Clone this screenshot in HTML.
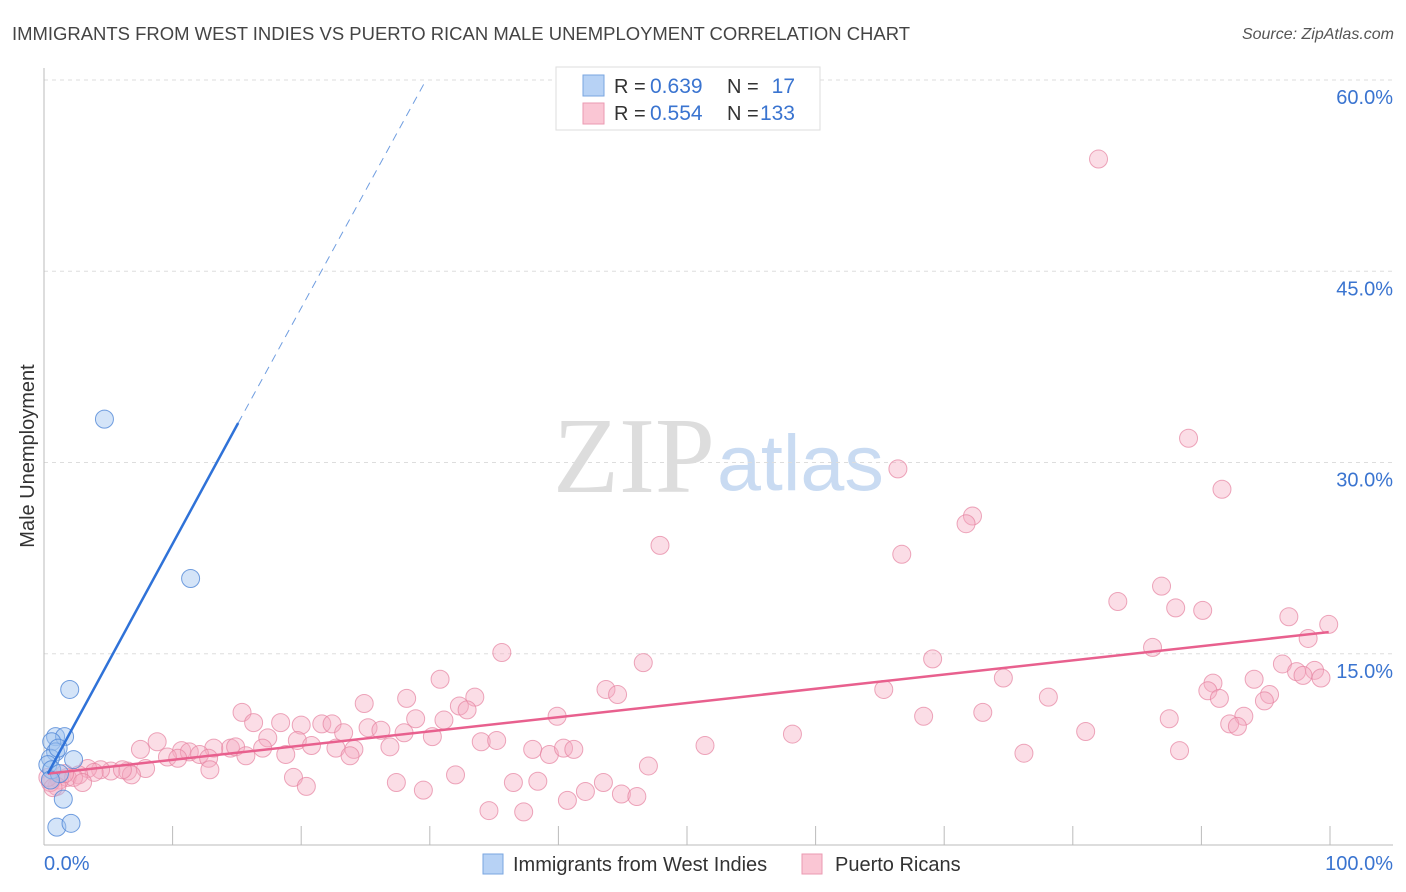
<!DOCTYPE html>
<html><head><meta charset="utf-8"><style>
body{margin:0;background:#fff;font-family:"Liberation Sans",sans-serif;}
svg{display:block}
</style></head><body>
<svg id="chart" width="1406" height="892" xmlns="http://www.w3.org/2000/svg">
<text x="12" y="40" font-size="18" fill="#444" textLength="898" lengthAdjust="spacingAndGlyphs">IMMIGRANTS FROM WEST INDIES VS PUERTO RICAN MALE UNEMPLOYMENT CORRELATION CHART</text>
<text x="1394" y="39" font-size="16" fill="#555" font-style="italic" text-anchor="end">Source: ZipAtlas.com</text>
<g>
<text x="553" y="492" font-size="108" font-family="Liberation Serif,serif" fill="#ddd">ZIP</text>
<text x="717" y="490" font-size="79" fill="#c9dbf2">atlas</text>
</g>
<g id="grid"></g>
<g id="axes"></g>
<g id="marks"></g>
<text transform="translate(34,456) rotate(-90)" font-size="20" fill="#333" text-anchor="middle">Male Unemployment</text>
<g>
<rect x="556" y="67" width="264" height="63" fill="#fff" stroke="#ddd"/>
<rect x="583" y="75" width="21" height="21" fill="#b7d2f5" stroke="#7aa6e0"/>
<rect x="583" y="103" width="21" height="21" fill="#fac6d4" stroke="#eb9ab2"/>
<text x="614" y="93" font-size="20" fill="#333">R =</text>
<text x="650" y="93" font-size="21" fill="#3a74d0">0.639</text>
<text x="727" y="93" font-size="20" fill="#333">N =</text>
<text x="795" y="93" font-size="21" fill="#3a74d0" text-anchor="end">17</text>
<text x="614" y="120" font-size="20" fill="#333">R =</text>
<text x="650" y="120" font-size="21" fill="#3a74d0">0.554</text>
<text x="727" y="120" font-size="20" fill="#333">N =</text>
<text x="795" y="120" font-size="21" fill="#3a74d0" text-anchor="end">133</text>
</g>
<g>
<rect x="483" y="854" width="20" height="20" fill="#b7d2f5" stroke="#7aa6e0"/>
<text x="513" y="871" font-size="20" fill="#333">Immigrants from West Indies</text>
<rect x="802" y="854" width="20" height="20" fill="#fac6d4" stroke="#eb9ab2"/>
<text x="835" y="871" font-size="20" fill="#333">Puerto Ricans</text>
</g>
</svg>
<script>
const yTicks=[15,30,45,60];
const yTickLabels=["15.0%","30.0%","45.0%","60.0%"];
const xTickLabels=["0.0%","100.0%"];
const blueX=[4.7,11.4,2.0,0.9,1.6,0.6,0.9,0.5,2.3,0.3,0.6,1.2,1.5,1.0,2.1,0.5,1.1];
const blueY=[33.4,20.9,12.2,8.5,8.5,8.1,7.3,6.8,6.7,6.3,5.9,5.6,3.6,1.4,1.7,5.1,7.6];
const pinkX=[82.0,89.0,66.4,91.6,72.2,71.7,47.9,66.7,86.9,83.5,88.0,90.1,96.8,99.9,98.3,35.6,86.2,69.1,46.6,96.3,97.4,98.8,97.9,99.3,74.6,94.1,90.9,65.3,43.7,44.6,90.5,78.1,95.3,91.4,30.8,28.2,33.5,24.9,32.3,32.9,94.9,15.4,28.9,31.1,39.9,68.4,73.0,87.5,93.3,92.2,92.8,16.3,18.4,20.0,21.6,22.4,23.3,25.2,26.2,28.0,30.2,58.2,81.0,17.4,19.7,20.8,24.1,26.9,17.0,14.5,13.2,14.9,7.5,8.8,10.7,11.3,12.1,9.6,10.4,12.8,15.7,18.8,22.7,23.8,34.0,35.2,38.0,39.3,40.4,41.2,51.4,76.2,88.3,47.0,7.9,12.9,6.5,6.8,5.2,4.4,3.4,3.9,2.7,1.8,1.2,1.0,0.5,19.4,20.4,27.4,29.5,32.0,36.5,38.4,43.5,42.1,40.7,44.9,46.1,34.6,37.3,6.1,2.3,3.0,0.3,0.7,1.6];
const pinkY=[53.8,31.9,29.5,27.9,25.8,25.2,23.5,22.8,20.3,19.1,18.6,18.4,17.9,17.3,16.2,15.1,15.5,14.6,14.3,14.2,13.6,13.7,13.3,13.1,13.1,13.0,12.7,12.2,12.2,11.8,12.1,11.6,11.8,11.5,13.0,11.5,11.6,11.1,10.9,10.6,11.3,10.4,9.9,9.8,10.1,10.1,10.4,9.9,10.1,9.5,9.3,9.6,9.6,9.4,9.5,9.5,8.8,9.2,9.0,8.8,8.5,8.7,8.9,8.4,8.2,7.8,7.5,7.7,7.6,7.6,7.6,7.7,7.5,8.1,7.4,7.3,7.1,6.9,6.8,6.8,7.0,7.1,7.6,7.0,8.1,8.2,7.5,7.1,7.6,7.5,7.8,7.2,7.4,6.2,6.0,5.9,5.8,5.5,5.8,5.9,6.0,5.7,5.5,5.3,5.1,4.6,4.9,5.3,4.6,4.9,4.3,5.5,4.9,5.0,4.9,4.2,3.5,4.0,3.8,2.7,2.6,5.9,5.3,4.9,5.3,4.5,5.6];
const blueTrend=[[0.3,5.6],[15.1,33.1]];
const blueTrendExt=[[15.1,33.1],[29.6,59.8]];
const pinkTrend=[[0.3,5.6],[99.9,16.7]];

const X0=44,X1=1330,Y0=845,YPER=12.75;
const sx=v=>X0+(X1-X0)*v/100;
const sy=v=>Y0-v*YPER;
const NS="http://www.w3.org/2000/svg";
function mk(tag,attrs,parent){const e=document.createElementNS(NS,tag);for(const k in attrs)e.setAttribute(k,attrs[k]);parent.appendChild(e);return e;}
const grid=document.getElementById('grid'),axes=document.getElementById('axes'),marks=document.getElementById('marks');
yTicks.forEach((t,i)=>{
 const l=mk('line',{x1:X0,x2:1393,y1:sy(t),y2:sy(t),stroke:'#ddd','stroke-dasharray':'4,4'},grid);
 
 
 const tx=mk('text',{x:1393,y:sy(t)+24,'font-size':20,fill:'#3a74d0','text-anchor':'end'},axes);
 tx.textContent=yTickLabels[i];
 
 
});
const ya=mk('line',{x1:X0,x2:X0,y1:68,y2:Y0,stroke:'#bbb'},axes);


const xa=mk('line',{x1:X0,x2:1393,y1:Y0,y2:Y0,stroke:'#bbb'},axes);


for(let i=1;i<=10;i++){
 const t=mk('line',{x1:sx(i*10),x2:sx(i*10),y1:826,y2:Y0,stroke:'#bbb'},axes);
 
 
}
const xl0=mk('text',{x:X0,y:870,'font-size':20,fill:'#3a74d0'},axes);xl0.textContent=xTickLabels[0];


const xl1=mk('text',{x:1393,y:870,'font-size':20,fill:'#3a74d0','text-anchor':'end'},axes);xl1.textContent=xTickLabels[1];



pinkX.forEach((x,i)=>{
 const c=mk('circle',{cx:sx(x),cy:sy(pinkY[i]),r:9,fill:'rgba(245,170,192,0.4)',stroke:'rgba(230,130,160,0.7)','stroke-width':1},marks);
 
 
});
blueX.forEach((x,i)=>{
 const c=mk('circle',{cx:sx(x),cy:sy(blueY[i]),r:9,fill:'rgba(160,195,240,0.45)',stroke:'rgba(80,135,215,0.8)','stroke-width':1},marks);
 
 
});
const pl=mk('line',{x1:sx(pinkTrend[0][0]),y1:sy(pinkTrend[0][1]),x2:sx(pinkTrend[1][0]),y2:sy(pinkTrend[1][1]),stroke:'#e8608e','stroke-width':2.5},marks);


const bl=mk('line',{x1:sx(blueTrend[0][0]),y1:sy(blueTrend[0][1]),x2:sx(blueTrend[1][0]),y2:sy(blueTrend[1][1]),stroke:'#2f72d8','stroke-width':2.5},marks);


const bd=mk('line',{x1:sx(blueTrendExt[0][0]),y1:sy(blueTrendExt[0][1]),x2:sx(blueTrendExt[1][0]),y2:sy(blueTrendExt[1][1]),stroke:'#6f9de0','stroke-width':1,'stroke-dasharray':'8,6'},marks);


</script>
</body></html>
